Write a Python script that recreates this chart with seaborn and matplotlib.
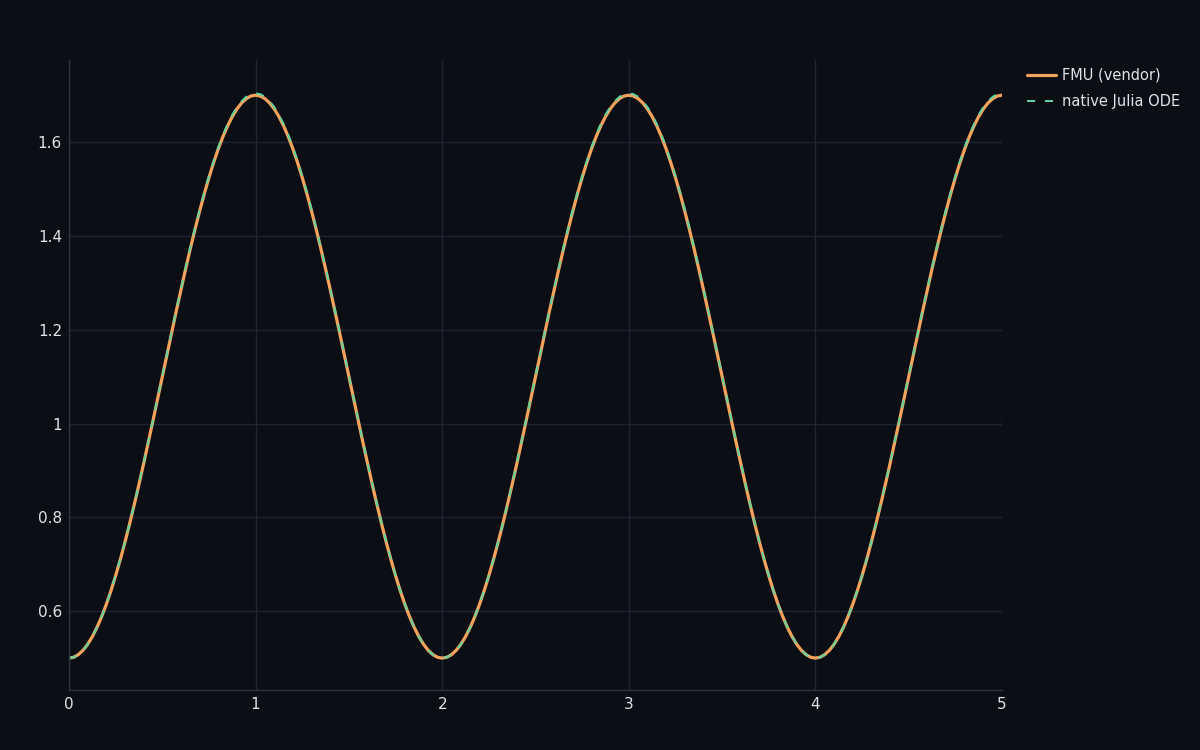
import numpy as np
import pandas as pd
import seaborn as sns
import matplotlib.pyplot as plt
from matplotlib.ticker import FuncFormatter

# time grid, 0.025 s steps
t = [round(0.025 * i, 3) for i in range(201)]

# one half period (rising, 0 -> 1 s)
fmu_rise = [0.5000, 0.5018, 0.5074, 0.5166, 0.5294, 0.5457, 0.5654, 0.5884, 0.6146,
            0.6438, 0.6757, 0.7103, 0.7473, 0.7865, 0.8276, 0.8704, 0.9146, 0.9599,
            1.0061, 1.0529, 1.1000, 1.1471, 1.1939, 1.2401, 1.2854, 1.3296, 1.3724,
            1.4135, 1.4527, 1.4897, 1.5243, 1.5562, 1.5854, 1.6116, 1.6346, 1.6543,
            1.6706, 1.6834, 1.6926, 1.6982, 1.7000]
ode_rise = [0.5000, 0.5018, 0.5074, 0.5166, 0.5295, 0.5459, 0.5656, 0.5887, 0.6150,
            0.6443, 0.6763, 0.7110, 0.7481, 0.7874, 0.8287, 0.8717, 0.9160, 0.9614,
            1.0078, 1.0547, 1.1020, 1.1493, 1.1962, 1.2426, 1.2880, 1.3323, 1.3753,
            1.4166, 1.4559, 1.4930, 1.5278, 1.5597, 1.5890, 1.6153, 1.6384, 1.6582,
            1.6745, 1.6873, 1.6965, 1.7022, 1.7040]

# the signal repeats: rise, fall, rise, fall, rise over 0..5 s
fmu_vendor = (fmu_rise + fmu_rise[-2::-1] + fmu_rise[1:] + fmu_rise[-2::-1]
              + fmu_rise[1:])
native_ode = (ode_rise + ode_rise[-2::-1] + ode_rise[1:] + ode_rise[-2::-1]
              + ode_rise[1:])

series_names = ["FMU (vendor)", "native Julia ODE"]
x_ticks = [0, 1, 2, 3, 4, 5]
y_ticks = [0.6, 0.8, 1.0, 1.2, 1.4, 1.6]

bg = "#0b0e15"
grid_c = "#1e2432"
text_c = "#dde3ee"
orange = "#f5a35c"
green = "#5fd3a0"

df = pd.DataFrame({
    "t": t * 2,
    "y": fmu_vendor + native_ode,
    "series": [series_names[0]] * len(t) + [series_names[1]] * len(t),
})

sns.set_style("dark")
plt.rcParams["font.family"] = ["DejaVu Sans"]

fig = plt.figure(figsize=(12, 7.5), dpi=100, facecolor=bg)
ax = fig.add_axes([0.0575, 0.08, 0.7775, 0.84])
ax.set_facecolor(bg)

sns.lineplot(data=df[df.series == series_names[0]], x="t", y="y", color=orange,
             lw=2.3, ax=ax, label=series_names[0])
sns.lineplot(data=df[df.series == series_names[1]], x="t", y="y", color=green,
             lw=1.4, ax=ax, label=series_names[1])
ax.lines[1].set_dashes((4.2, 5.0))

ax.set_xlim(0, 5)
ax.set_ylim(0.432, 1.775)
ax.set_xticks(x_ticks)
ax.set_yticks(y_ticks)
ax.yaxis.set_major_formatter(FuncFormatter(lambda v, p: f"{v:g}"))
ax.grid(True, color=grid_c, lw=1)
ax.set_axisbelow(True)
ax.tick_params(colors=text_c, labelsize=11, length=0, pad=5)
ax.set_xlabel("")
ax.set_ylabel("")
for side in ["top", "right"]:
    ax.spines[side].set_visible(False)
for side in ["left", "bottom"]:
    ax.spines[side].set_visible(True)
    ax.spines[side].set_color("#2c3344")
    ax.spines[side].set_linewidth(1)

ax.get_legend().remove()
handles, labels = ax.get_legend_handles_labels()
leg = fig.legend(handles, labels, loc="upper left", bbox_to_anchor=(0.845, 0.927),
                 frameon=False, fontsize=10.5, handlelength=2.0, labelspacing=0.75,
                 handletextpad=0.4)
for txt in leg.get_texts():
    txt.set_color(text_c)

fig.savefig("out.png", dpi=100, facecolor=bg)
